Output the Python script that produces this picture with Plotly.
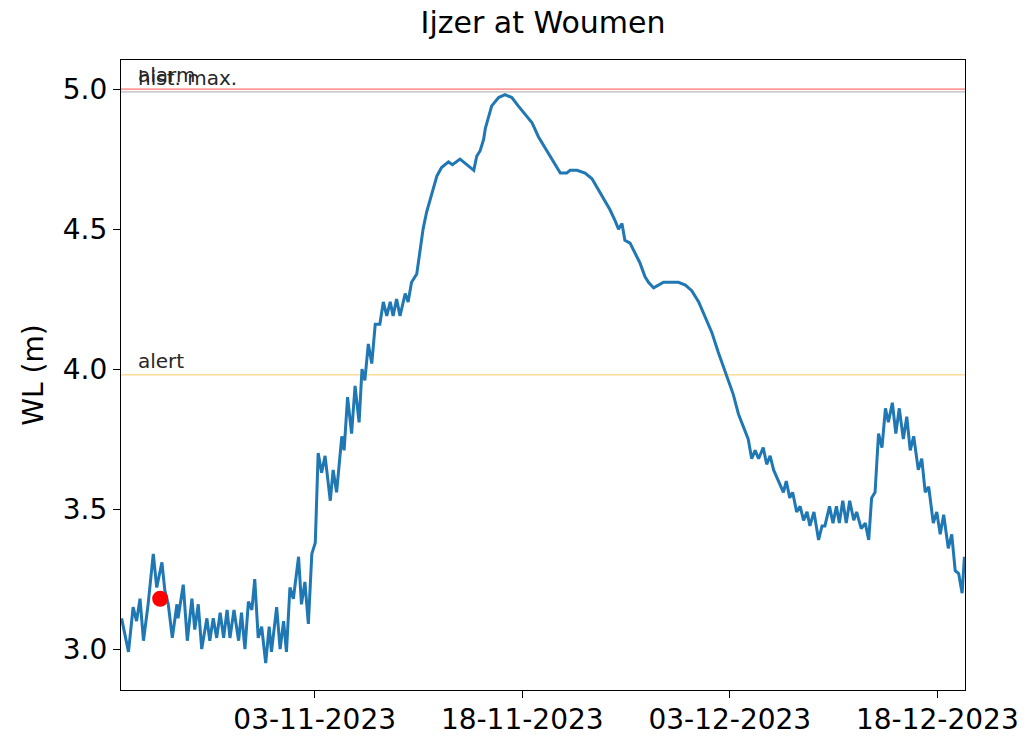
import pandas as pd
import plotly.graph_objects as go

# ---- data -------------------------------------------------------------
start_date = "2023-10-20 00:00"
end_date = "2023-12-20 00:00"

# hours since start_date
hours = [1, 13, 21, 27, 33, 39, 47, 56, 62, 71, 76, 82, 89, 97, 99, 108, 115, 123, 128, 134,
         140, 149, 154, 160, 166, 172, 178, 184, 189, 196, 204, 209, 215, 221, 227, 232, 238, 244, 251, 257,
         261, 270, 276, 282, 287, 293, 299, 308, 313, 319, 325, 331, 337, 342, 348, 354, 363, 368, 374, 383,
         387, 393, 400, 406, 413, 418, 423, 429, 435, 441, 449, 455, 461, 467, 472, 478, 484, 493, 498, 504,
         513, 519, 524, 530, 539, 548, 556, 568, 575, 582, 588, 594, 606, 612, 617, 623, 629, 632, 643, 655,
         666, 678, 689, 701, 713, 724, 736, 747, 762, 773, 779, 791, 805, 817, 828, 840, 848, 857, 863, 869,
         874, 883, 895, 900, 909, 915, 924, 932, 941, 953, 967, 979, 990, 1002, 1013, 1025, 1036, 1048, 1054, 1062,
         1071, 1080, 1088, 1094, 1100, 1106, 1114, 1120, 1126, 1132, 1143, 1149, 1154, 1160, 1165, 1172, 1178, 1184, 1190, 1195,
         1202, 1210, 1216, 1221, 1229, 1235, 1241, 1246, 1252, 1258, 1264, 1271, 1276, 1284, 1291, 1297, 1302, 1308, 1314, 1320,
         1326, 1331, 1338, 1344, 1350, 1357, 1363, 1369, 1375, 1383, 1389, 1395, 1401, 1409, 1415, 1421, 1427, 1435, 1441, 1447,
         1453, 1459, 1463]

water_level = [3.11, 2.99, 3.15, 3.10, 3.18, 3.03, 3.16, 3.34, 3.22, 3.31, 3.21, 3.16, 3.04, 3.16, 3.11, 3.23, 3.03, 3.18, 3.07, 3.16,
               3.00, 3.11, 3.03, 3.11, 3.04, 3.13, 3.04, 3.14, 3.04, 3.14, 3.03, 3.13, 3.00, 3.17, 3.14, 3.25, 3.04, 3.08, 2.95, 3.08,
               2.99, 3.15, 3.00, 3.10, 2.99, 3.22, 3.18, 3.33, 3.16, 3.24, 3.09, 3.34, 3.38, 3.70, 3.63, 3.69, 3.53, 3.64, 3.56, 3.76,
               3.71, 3.90, 3.77, 3.94, 3.81, 4.00, 3.96, 4.09, 4.02, 4.16, 4.16, 4.24, 4.19, 4.24, 4.19, 4.25, 4.19, 4.27, 4.24, 4.31,
               4.34, 4.43, 4.50, 4.56, 4.63, 4.69, 4.72, 4.74, 4.73, 4.74, 4.75, 4.74, 4.72, 4.71, 4.76, 4.78, 4.82, 4.86, 4.94, 4.97,
               4.98, 4.97, 4.94, 4.91, 4.88, 4.83, 4.79, 4.75, 4.70, 4.70, 4.71, 4.71, 4.70, 4.68, 4.64, 4.60, 4.57, 4.53, 4.50, 4.52,
               4.46, 4.45, 4.40, 4.38, 4.33, 4.31, 4.29, 4.30, 4.31, 4.31, 4.31, 4.30, 4.28, 4.24, 4.19, 4.13, 4.06, 3.99, 3.96, 3.91,
               3.84, 3.79, 3.75, 3.68, 3.71, 3.68, 3.72, 3.66, 3.69, 3.64, 3.59, 3.56, 3.60, 3.54, 3.56, 3.49, 3.51, 3.46, 3.49, 3.44,
               3.49, 3.39, 3.44, 3.44, 3.51, 3.45, 3.51, 3.45, 3.53, 3.45, 3.53, 3.46, 3.49, 3.43, 3.45, 3.39, 3.54, 3.56, 3.77, 3.72,
               3.86, 3.81, 3.88, 3.77, 3.86, 3.75, 3.83, 3.71, 3.76, 3.64, 3.68, 3.56, 3.58, 3.45, 3.49, 3.41, 3.48, 3.36, 3.41, 3.28,
               3.27, 3.20, 3.33]

current_time_hour = 68
current_level = 3.18

threshold_names = ["alarm", "hist. max.", "alert"]
threshold_levels = [5.0, 4.99, 3.98]
threshold_colors = ["rgba(255,0,0,0.4)", "rgba(128,128,128,0.4)", "rgba(255,165,0,0.4)"]
label_hour = 26

x_tick_dates = ["2023-11-03", "2023-11-18", "2023-12-03", "2023-12-18"]
y_tick_values = [3.0, 3.5, 4.0, 4.5, 5.0]

title_text = "Ijzer at Woumen"
y_title = "WL (m)"

# ---- build ------------------------------------------------------------
t0 = pd.Timestamp(start_date)
times = t0 + pd.to_timedelta(hours, unit="h")
t_end = pd.Timestamp(end_date)

FONT = "DejaVu Sans"
fig = go.Figure()

for name, lvl, col in zip(threshold_names, threshold_levels, threshold_colors):
    fig.add_trace(go.Scatter(x=[t0, t_end], y=[lvl, lvl], mode="lines",
                             line=dict(color=col, width=1.6), hoverinfo="skip",
                             showlegend=False))
    fig.add_annotation(x=t0 + pd.Timedelta(hours=label_hour), y=lvl, text=name,
                       xanchor="left", yanchor="bottom", showarrow=False,
                       yshift=0, font=dict(family=FONT, size=20, color="#262626"))

fig.add_trace(go.Scatter(x=times, y=water_level, mode="lines",
                         line=dict(color="#1f77b4", width=3), showlegend=False))

fig.add_trace(go.Scatter(x=[t0 + pd.Timedelta(hours=current_time_hour)], y=[current_level],
                         mode="markers", marker=dict(color="red", size=16),
                         showlegend=False))

fig.update_layout(
    width=1009, height=723,
    margin=dict(l=113, r=52, t=52, b=41),
    paper_bgcolor="white", plot_bgcolor="white",
    title=dict(text=title_text, x=0.5, xref="paper", y=1 - 14 / 723, yref="container",
               yanchor="middle", font=dict(family=FONT, size=30, color="black")),
    font=dict(family=FONT, color="black"),
)
fig.update_xaxes(range=[t0, t_end], tickvals=pd.to_datetime(x_tick_dates),
                 tickformat="%d-%m-%Y", showgrid=False, zeroline=False, automargin=False,
                 ticklabeloverflow="allow", ticklabelstandoff=-3,
                 showline=True, mirror=True, linecolor="black", linewidth=1.3,
                 ticks="outside", ticklen=7, tickwidth=1.3, tickcolor="black",
                 tickfont=dict(family=FONT, size=28, color="black"))
fig.update_yaxes(range=[2.854, 5.104], tickvals=y_tick_values, tickformat=".1f",
                 showgrid=False, zeroline=False, automargin=False,
                 showline=True, mirror=True, linecolor="black", linewidth=1.3,
                 ticks="outside", ticklen=7, tickwidth=1.3, tickcolor="black",
                 tickfont=dict(family=FONT, size=28, color="black"),
                 title=dict(text=y_title, standoff=10,
                            font=dict(family=FONT, size=28, color="black")))

fig.write_html("out.html")
